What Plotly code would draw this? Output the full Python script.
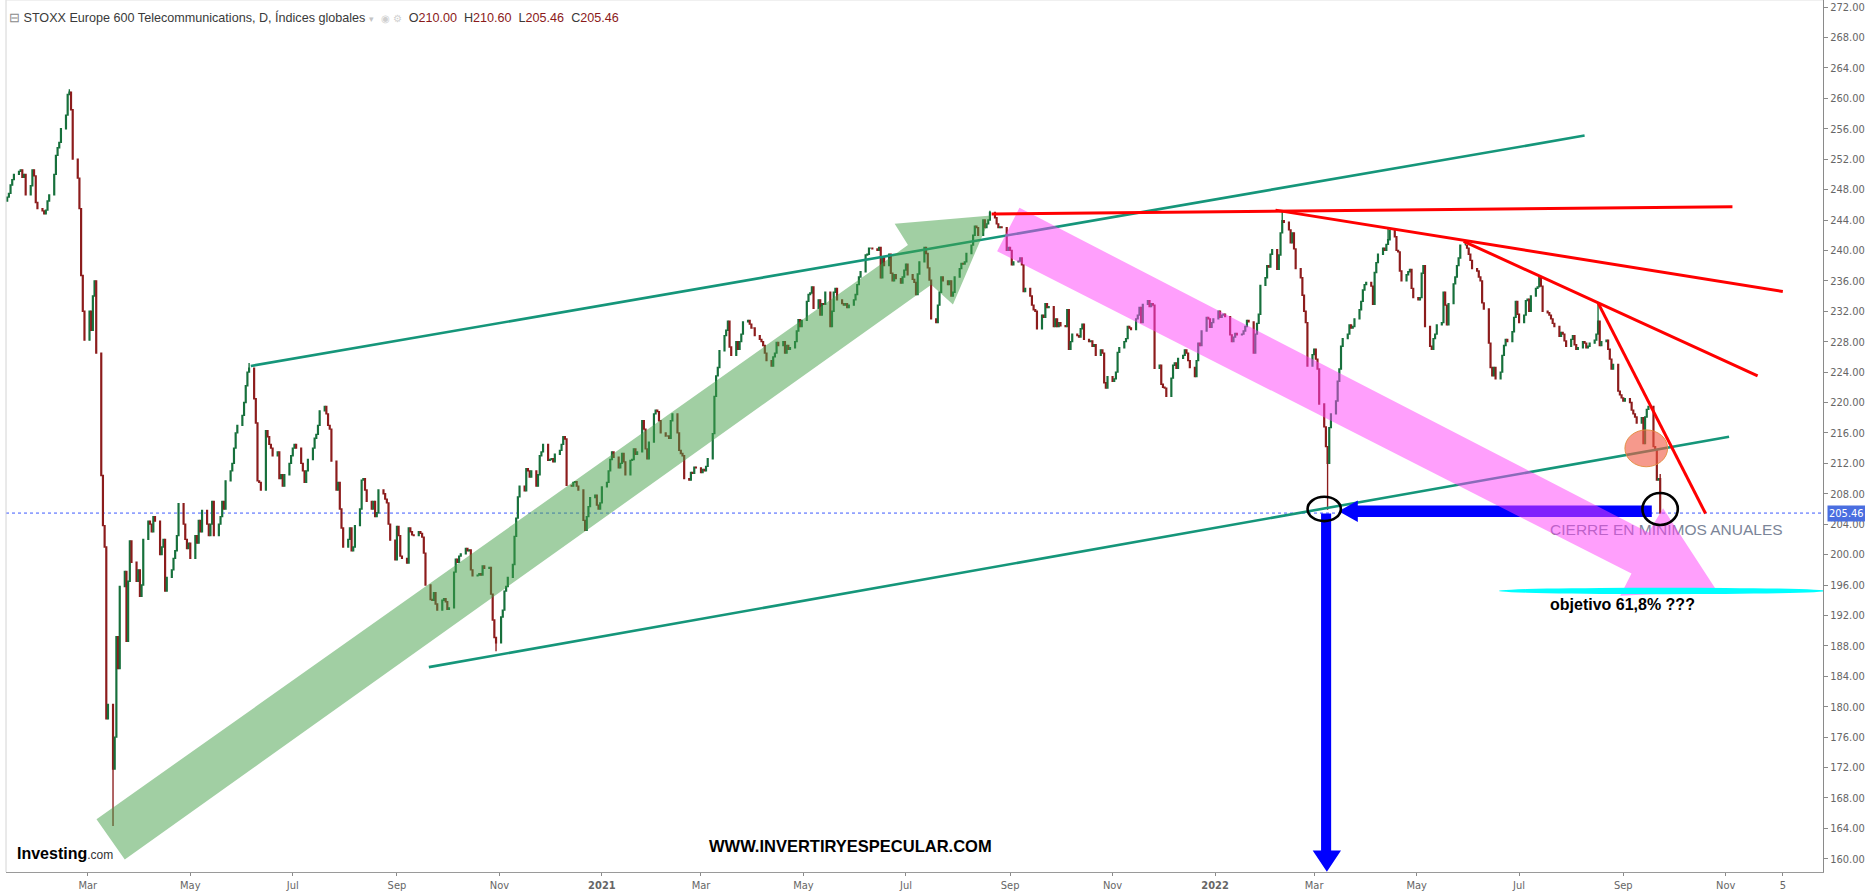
import pandas as pd
import plotly.graph_objects as go

# ---------------- daily closes, one list per month ----------------
c2020_01 = [247.0, 247.5, 248.6, 249.3, 250.0, 250.4, 250.6, 249.6, 250.0, 247.3, 248.5, 250.6, 249.8, 246.3, 245.5]
c2020_02 = [245.2, 244.8, 245.3, 246.5, 247.3, 250.0, 252.5, 253.5, 254.2, 256.0, 257.8, 260.5, 260.8, 258.5, 252.0, 249.5, 245.5, 236.7, 232.0, 228.2]
c2020_03 = [232.0, 229.5, 234.0, 236.0, 226.5, 210.4, 203.8, 201.0, 178.4, 180.3, 171.8, 176.0, 189.2, 185.0, 195.8, 197.8, 188.6, 196.5, 201.8, 199.0, 196.5, 198.0]
c2020_04 = [194.5, 196.0, 202.0, 204.4, 204.0, 203.0, 205.0, 204.4, 200.0, 201.0, 202.0, 195.2, 197.0, 198.0, 199.5, 200.5, 202.5, 206.7, 204.0, 202.0, 200.8, 201.5]
c2020_05 = [199.5, 202.5, 201.5, 204.5, 203.0, 205.8, 204.0, 202.5, 204.0, 207.0, 202.5, 204.0, 205.0, 207.0, 206.0, 209.7, 211.0, 212.0, 214.0, 216.0, 217.0]
c2020_06 = [218.3, 220.0, 222.2, 224.0, 224.5, 220.5, 217.3, 209.7, 209.5, 208.5, 216.3, 215.5, 214.5, 214.0, 213.0, 213.5, 210.0, 210.5, 209.0, 210.5, 212.0, 213.0]
c2020_07 = [214.0, 214.5, 214.0, 212.0, 211.0, 209.5, 211.0, 212.5, 214.0, 215.3, 215.8, 217.0, 218.9, 219.5, 218.5, 217.0, 216.5, 212.3, 208.5, 209.5, 206.0, 203.5, 201.0]
c2020_08 = [202.0, 203.5, 200.5, 201.0, 203.8, 206.0, 209.8, 210.0, 208.5, 207.0, 206.0, 207.0, 205.0, 205.5, 208.5, 208.0, 207.3, 206.8, 204.0, 201.9, 199.3]
c2020_09 = [203.7, 202.5, 199.8, 199.5, 198.9, 203.5, 203.0, 202.6, 202.5, 203.0, 202.8, 202.3, 200.2, 196.0, 194.1, 194.0, 195.0, 193.5, 192.7, 194.0, 194.2, 193.8]
c2020_10 = [192.8, 193.0, 197.7, 199.4, 199.0, 199.8, 200.1, 200.8, 200.5, 200.6, 198.0, 197.2, 197.3, 197.5, 197.3, 198.5, 198.2, 198.3, 194.8, 191.4, 189.1, 188.4]
c2020_11 = [191.8, 192.7, 195.2, 195.8, 197.0, 198.7, 202.4, 204.8, 207.6, 209.0, 208.4, 211.3, 211.0, 210.2, 211.0, 209.0, 210.5, 213.0, 213.5, 214.5, 212.4]
c2020_12 = [212.5, 212.6, 212.2, 213.2, 213.7, 214.5, 215.5, 215.2, 209.1, 209.0, 209.5, 209.6, 209.0, 208.5, 204.5, 203.2, 205.0, 206.3, 207.5, 207.8, 206.5, 206.0, 206.8]
c2021_01 = [208.9, 209.5, 211.0, 212.5, 213.5, 212.8, 211.4, 212.0, 213.3, 212.2, 210.5, 212.4, 212.5, 213.9, 213.2, 213.5, 217.6, 216.5, 213.9, 212.6, 214.8]
c2021_02 = [218.5, 219.0, 218.8, 217.6, 216.0, 215.6, 215.6, 215.3, 217.6, 218.5, 216.0, 213.7, 213.3, 213.0, 210.0, 209.8, 210.8, 210.7, 211.5, 211.4]
c2021_03 = [210.8, 211.2, 211.0, 211.6, 212.6, 215.9, 220.8, 223.5, 224.6, 226.8, 228.8, 229.5, 230.7, 227.3, 226.2, 228.0, 227.0, 228.0, 229.0, 230.6, 230.8, 230.3, 229.8]
c2021_04 = [229.8, 228.8, 228.3, 228.0, 227.5, 226.5, 225.5, 224.8, 226.0, 226.5, 227.9, 227.5, 228.0, 226.5, 227.5, 227.0, 227.2, 228.0, 229.4, 230.9, 230.0, 230.8]
c2021_05 = [233.3, 234.2, 234.4, 235.2, 232.4, 233.5, 231.5, 233.0, 232.9, 234.5, 230.0, 232.0, 234.5, 235.0, 233.5, 233.0, 232.8, 233.0, 232.5, 232.8, 233.5]
c2021_06 = [234.2, 235.5, 236.5, 237.2, 239.4, 239.5, 240.3, 240.3, 240.2, 240.0, 240.4, 236.4, 239.0, 238.0, 239.5, 237.0, 236.0, 236.8, 236.3, 235.7, 236.5, 237.4]
c2021_07 = [238.2, 236.8, 236.2, 235.8, 234.2, 236.9, 238.5, 240.4, 239.6, 237.7, 236.1, 231.0, 230.5, 232.8, 234.5, 236.5, 236.0, 235.5, 236.0, 234.0, 234.5, 236.5]
c2021_08 = [237.6, 238.3, 238.2, 238.5, 239.6, 240.7, 242.0, 243.2, 243.0, 242.0, 244.0, 243.0, 243.5, 244.0, 245.0, 244.3, 243.5, 243.0, 243.1, 243.0, 240.0, 240.4]
c2021_09 = [240.0, 238.1, 238.5, 238.6, 239.0, 238.1, 234.6, 235.0, 234.0, 232.8, 232.2, 232.0, 229.7, 231.5, 231.2, 233.0, 232.5, 232.6, 230.0, 231.0, 230.0, 230.5]
c2021_10 = [230.1, 230.0, 232.2, 227.0, 228.0, 229.0, 228.8, 228.6, 229.7, 230.3, 228.3, 228.0, 228.1, 227.4, 227.6, 226.2, 226.9, 226.5, 222.6, 221.9, 223.4]
c2021_11 = [222.8, 223.1, 224.0, 226.6, 227.2, 228.0, 228.4, 230.0, 229.8, 229.6, 231.0, 231.5, 232.5, 230.5, 232.9, 233.4, 232.6, 233.0, 232.8, 224.5, 224.9, 222.4]
c2021_12 = [222.0, 221.9, 220.8, 223.2, 224.9, 225.2, 224.5, 225.8, 226.2, 226.9, 226.5, 225.5, 224.6, 223.4, 225.5, 227.8, 227.5, 229.4, 231.2, 231.0, 229.9, 230.5, 231.0]
c2022_01 = [232.0, 231.2, 231.5, 231.6, 231.3, 228.9, 228.0, 228.6, 229.1, 228.9, 229.0, 229.4, 230.0, 230.8, 230.6, 226.5, 229.0, 230.4, 231.6, 235.4, 236.4]
c2022_02 = [238.0, 237.8, 239.5, 240.1, 237.5, 239.4, 242.3, 243.9, 243.7, 242.7, 241.0, 242.3, 240.2, 237.6, 236.4, 234.1, 232.0, 230.5, 224.8, 226.3]
c2022_03 = [227.0, 225.7, 224.4, 219.8, 216.8, 214.2, 212.0, 216.7, 218.5, 220.2, 222.8, 224.4, 227.4, 228.4, 229.0, 230.2, 229.8, 230.0, 231.0, 232.2, 233.3, 234.8, 235.5]
c2022_04 = [235.8, 235.3, 232.9, 237.1, 238.4, 239.5, 240.3, 240.0, 240.8, 241.4, 242.6, 241.8, 240.0, 239.8, 237.3, 236.0, 236.8, 237.2, 237.5, 235.0, 233.8]
c2022_05 = [233.5, 233.8, 237.0, 238.0, 230.0, 227.4, 227.0, 228.4, 229.0, 230.2, 230.5, 234.5, 232.8, 230.2, 233.0, 235.6, 236.5, 238.0, 239.0, 240.7, 240.7, 240.3]
c2022_06 = [239.5, 238.7, 237.6, 237.3, 236.5, 236.0, 233.1, 232.3, 227.8, 224.6, 223.5, 224.6, 223.1, 224.0, 226.2, 227.5, 228.3, 228.0, 229.3, 231.2, 233.3, 231.6]
c2022_07 = [230.5, 231.5, 233.4, 233.6, 232.0, 234.0, 235.0, 235.2, 236.5, 235.3, 232.0, 231.8, 231.5, 231.0, 230.4, 230.0, 228.7, 229.2, 229.0, 228.1, 227.4]
c2022_08 = [228.3, 228.8, 227.6, 227.0, 227.2, 228.0, 227.8, 227.2, 227.4, 227.8, 228.2, 229.0, 230.7, 227.5, 228.0, 228.2, 227.0, 225.7, 224.4, 225.0, 221.5, 221.0, 220.6]
c2022_09 = [220.2, 220.5, 220.0, 219.0, 218.5, 218.1, 217.3, 218.0, 214.6, 218.1, 219.1, 219.5, 214.2, 213.8, 209.8, 210.0, 205.46]

MONTHS = [
    ("2020-01-13", c2020_01), ("2020-02-01", c2020_02), ("2020-03-01", c2020_03), ("2020-04-01", c2020_04),
    ("2020-05-01", c2020_05), ("2020-06-01", c2020_06), ("2020-07-01", c2020_07), ("2020-08-01", c2020_08),
    ("2020-09-01", c2020_09), ("2020-10-01", c2020_10), ("2020-11-01", c2020_11), ("2020-12-01", c2020_12),
    ("2021-01-01", c2021_01), ("2021-02-01", c2021_02), ("2021-03-01", c2021_03), ("2021-04-01", c2021_04),
    ("2021-05-01", c2021_05), ("2021-06-01", c2021_06), ("2021-07-01", c2021_07), ("2021-08-01", c2021_08),
    ("2021-09-01", c2021_09), ("2021-10-01", c2021_10), ("2021-11-01", c2021_11), ("2021-12-01", c2021_12),
    ("2022-01-01", c2022_01), ("2022-02-01", c2022_02), ("2022-03-01", c2022_03), ("2022-04-01", c2022_04),
    ("2022-05-01", c2022_05), ("2022-06-01", c2022_06), ("2022-07-01", c2022_07), ("2022-08-01", c2022_08),
    ("2022-09-01", c2022_09),
]

FIRST_OPEN = 246.5
HIGH_WICKS = {"2020-02-19": 261.2, "2020-06-05": 225.2, "2021-08-20": 245.2, "2022-02-10": 245.1,
              "2022-04-14": 243.0, "2022-05-30": 241.3, "2022-08-17": 233.0, "2022-09-23": 210.6}
LOW_WICKS = {"2020-03-16": 164.3, "2020-10-30": 187.3, "2022-03-09": 205.9}
LAST_CLOSE = 205.46

# ---------------- drawn objects (dates / prices) ----------------
TEAL_UP_X, TEAL_UP_Y = ["2020-06-06", "2022-08-09"], [224.8, 255.1]
TEAL_LOW_X, TEAL_LOW_Y = ["2020-09-20", "2022-11-03"], [185.2, 215.5]
RED_LINES = [
    (["2021-08-21", "2022-11-05"], [244.8, 245.75]),
    (["2022-02-06", "2022-12-05"], [245.3, 234.6]),
    (["2022-05-29", "2022-11-20"], [241.2, 223.5]),
    (["2022-08-17", "2022-10-20"], [233.1, 205.4]),
]
GREEN_ARROW_X = ["2020-03-06 04:00", "2021-07-02 05:00", "2021-06-24 07:00", "2021-08-20 17:00",
                 "2021-07-29", "2021-07-16 02:00", "2020-03-23"]
GREEN_ARROW_Y = [165.2, 240.7, 243.5, 244.6, 232.9, 235.5, 159.9]
PINK_ARROW_X = ["2021-09-06 14:00", "2022-09-16", "2022-09-24 17:00", "2022-10-26 19:00",
                "2022-08-30 05:00", "2022-09-05 22:00", "2021-08-24 07:00"]
PINK_ARROW_Y = [245.6, 202.9, 206.1, 195.2, 194.6, 197.5, 239.9]
BLUE_H_X = ["2022-09-18", "2022-03-27", "2022-03-27", "2022-03-15 14:00", "2022-03-27", "2022-03-27", "2022-09-18"]
BLUE_H_Y = [206.45, 206.45, 207.1, 205.7, 204.3, 204.95, 204.95]
BLUE_V_X = ["2022-03-05 03:00", "2022-03-11 03:00", "2022-03-11 03:00", "2022-03-17",
            "2022-03-08 14:00", "2022-02-28 03:00", "2022-03-05 03:00"]
BLUE_V_Y = [205.4, 205.4, 161.1, 161.1, 158.3, 161.1, 161.1]
CIRCLE_L = ("2022-02-25 02:00", "2022-03-16 22:00", 204.4, 207.6)
CIRCLE_R = ("2022-09-12 10:00", "2022-10-03 12:00", 203.9, 208.1)
SALMON = ("2022-09-02", "2022-09-27 10:00", 211.55, 216.4)
CYAN = ("2022-06-19", "2022-12-31", 194.8, 195.65)

TXT_CIERRE = ("2022-09-26 16:00", 203.15, "CIERRE EN MINIMOS ANUALES")
TXT_OBJ = ("2022-08-31 17:00", 193.5, "objetivo 61,8% ???")
TXT_WEB = ("2021-05-29", 161.7, "WWW.INVERTIRYESPECULAR.COM")

Y_TICKS = list(range(160, 273, 4))
X_TICK_DATES = ["2020-03-01", "2020-05-01", "2020-07-01", "2020-09-01", "2020-11-01", "2021-01-01",
                "2021-03-01", "2021-05-01", "2021-07-01", "2021-09-01", "2021-11-01", "2022-01-01",
                "2022-03-01", "2022-05-01", "2022-07-01", "2022-09-01", "2022-11-01", "2022-12-05"]
X_TICK_TEXT = ["Mar", "May", "Jul", "Sep", "Nov", "<b>2021</b>", "Mar", "May", "Jul", "Sep", "Nov",
               "<b>2022</b>", "Mar", "May", "Jul", "Sep", "Nov", "5"]
X_RANGE = ["2020-01-12 07:00", "2022-12-28 22:00"]
Y_RANGE = [158.26, 272.93]

# ---------------- build OHLC ----------------
dates, closes = [], []
for start, vals in MONTHS:
    s = pd.Timestamp(start)
    days = pd.bdate_range(s, s + pd.offsets.MonthEnd(0))
    for d, v in zip(days, vals):
        dates.append(d)
        closes.append(v)
opens = [FIRST_OPEN] + closes[:-1]
highs = [max(o, c) for o, c in zip(opens, closes)]
lows = [min(o, c) for o, c in zip(opens, closes)]
for i, d in enumerate(dates):
    k = d.strftime("%Y-%m-%d")
    if k in HIGH_WICKS:
        highs[i] = max(highs[i], HIGH_WICKS[k])
    if k in LOW_WICKS:
        lows[i] = min(lows[i], LOW_WICKS[k])

FONT = "Liberation Sans, Arial, sans-serif"
NARROW = "Liberation Sans Narrow, Arial Narrow, DejaVu Sans Condensed, Liberation Sans, sans-serif"

fig = go.Figure()
fig.add_trace(go.Candlestick(
    x=dates, open=opens, high=highs, low=lows, close=closes,
    increasing=dict(line=dict(color="#17703c", width=1.35), fillcolor="#25a55c"),
    decreasing=dict(line=dict(color="#8c1c1c", width=1.35), fillcolor="#e05a5a"),
    whiskerwidth=0, hoverinfo="skip", showlegend=False))

def line_trace(x, y, color, width):
    return go.Scatter(x=x, y=y, mode="lines", line=dict(color=color, width=width),
                      hoverinfo="skip", showlegend=False)

def poly_trace(x, y, fill):
    return go.Scatter(x=x, y=y, mode="lines", fill="toself", fillcolor=fill,
                      line=dict(width=0, color=fill), hoverinfo="skip", showlegend=False)

fig.add_trace(line_trace(TEAL_UP_X, TEAL_UP_Y, "#15967a", 2.6))
fig.add_trace(line_trace(TEAL_LOW_X, TEAL_LOW_Y, "#15967a", 2.6))
fig.add_trace(poly_trace(GREEN_ARROW_X, GREEN_ARROW_Y, "rgba(67,160,71,0.5)"))
fig.add_trace(poly_trace(BLUE_H_X, BLUE_H_Y, "#0000ff"))
fig.add_trace(poly_trace(BLUE_V_X, BLUE_V_Y, "#0000ff"))
fig.add_trace(go.Scatter(x=[TXT_CIERRE[0]], y=[TXT_CIERRE[1]], mode="text", text=[TXT_CIERRE[2]],
                         textposition="middle center",
                         textfont=dict(family=FONT, size=15.5, color="#7b8598"),
                         hoverinfo="skip", showlegend=False))
fig.add_trace(poly_trace(PINK_ARROW_X, PINK_ARROW_Y, "rgba(255,64,250,0.5)"))

shapes = [dict(type="line", xref="paper", x0=0, x1=1, yref="y", y0=LAST_CLOSE, y1=LAST_CLOSE,
               line=dict(color="#3d5afe", width=1, dash="dot"), layer="below"),
          dict(type="line", xref="paper", x0=0, x1=0, yref="paper", y0=0, y1=1,
               line=dict(color="#d4d4d4", width=1), layer="above"),
          dict(type="line", xref="paper", x0=0, x1=1, yref="paper", y0=1, y1=1,
               line=dict(color="#e2e2e2", width=1), layer="above")]
for xs, ys in RED_LINES:
    shapes.append(dict(type="line", xref="x", yref="y", x0=xs[0], x1=xs[1], y0=ys[0], y1=ys[1],
                       line=dict(color="#ff0000", width=3), layer="above"))
shapes.append(dict(type="circle", xref="x", yref="y", x0=CYAN[0], x1=CYAN[1], y0=CYAN[2], y1=CYAN[3],
                   fillcolor="#00ffff", line=dict(width=0), layer="above"))
shapes.append(dict(type="circle", xref="x", yref="y", x0=SALMON[0], x1=SALMON[1], y0=SALMON[2], y1=SALMON[3],
                   fillcolor="rgba(240,90,70,0.62)", line=dict(color="rgba(225,140,60,0.9)", width=1),
                   layer="above"))
for c in (CIRCLE_L, CIRCLE_R):
    shapes.append(dict(type="circle", xref="x", yref="y", x0=c[0], x1=c[1], y0=c[2], y1=c[3],
                       fillcolor="rgba(0,0,0,0)", line=dict(color="#000000", width=2.6), layer="above"))

SP = "\u00a0"
header = ("<span style='color:#8a8a8a'>⊟</span>" + SP + "STOXX Europe 600 Telecommunications, D, Índices globales"
          + SP + "<span style='color:#c4c4c4;font-size:9px'>▾</span>" + SP * 2
          + "<span style='color:#cfcfcf;font-size:10px'>◉" + SP + "⚙</span>" + SP * 2
          + "O<span style='color:#8b1a1a'>210.00</span>" + SP * 2 + "H<span style='color:#8b1a1a'>210.60</span>"
          + SP * 2 + "L<span style='color:#8b1a1a'>205.46</span>" + SP * 2 + "C<span style='color:#8b1a1a'>205.46</span>")

annotations = [
    dict(xref="paper", yref="paper", x=0, y=1, xanchor="left", yanchor="middle", xshift=1, yshift=-17,
         text=header, showarrow=False, font=dict(family=FONT, size=12.6, color="#3a3a3a")),
    dict(xref="x", yref="y", x=TXT_OBJ[0], y=TXT_OBJ[1], text="<b>" + TXT_OBJ[2] + "</b>", showarrow=False,
         font=dict(family=FONT, size=16, color="#000000")),
    dict(xref="x", yref="y", x=TXT_WEB[0], y=TXT_WEB[1], text="<b>" + TXT_WEB[2] + "</b>", showarrow=False,
         font=dict(family=FONT, size=16.5, color="#000000")),
    dict(xref="paper", yref="paper", x=0, y=0, xanchor="left", yanchor="middle", xshift=9, yshift=19,
         text="<b>Investing</b><span style='font-size:12px;color:#333'>.com</span>", showarrow=False,
         font=dict(family=FONT, size=16, color="#000000")),
    dict(xref="paper", yref="y", x=1, y=LAST_CLOSE, xanchor="left", yanchor="middle", xshift=4,
         text="205.46", showarrow=False, bgcolor="#4a6ee0", borderpad=1,
         font=dict(family=NARROW, size=11, color="#ffffff")),
]

fig.update_layout(
    width=1865, height=892,
    margin=dict(l=6, r=38, t=0, b=14),
    paper_bgcolor="white", plot_bgcolor="white",
    showlegend=False, hovermode=False,
    shapes=shapes, annotations=annotations,
    xaxis=dict(type="date", range=X_RANGE, rangeslider=dict(visible=False),
               tickmode="array", tickvals=X_TICK_DATES, ticktext=X_TICK_TEXT,
               ticks="outside", ticklen=3, tickcolor="#8a8a8a",
               showline=True, linecolor="#9a9a9a", linewidth=1,
               showgrid=False, zeroline=False, fixedrange=True,
               tickfont=dict(family=NARROW, size=11, color="#666666")),
    yaxis=dict(side="right", range=Y_RANGE, tickmode="array", tickvals=Y_TICKS,
               ticktext=[f"{v:.2f}" for v in Y_TICKS],
               ticks="outside", ticklen=4, tickcolor="#8a8a8a",
               showline=True, linecolor="#8a8a8a", linewidth=1,
               showgrid=False, zeroline=False, fixedrange=True,
               tickfont=dict(family=NARROW, size=11, color="#666666")),
)

fig.write_html("out.html", config={"displayModeBar": False},
               post_script="document.body.style.margin='0';document.body.style.overflow='hidden';")
